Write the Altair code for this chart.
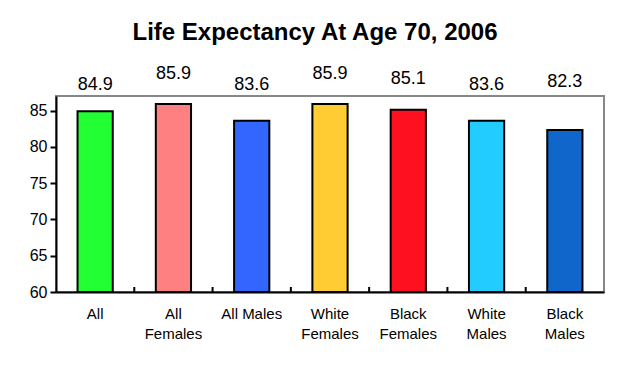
import altair as alt
import pandas as pd

categories = ["All", "All Females", "All Males", "White Females", "Black Females", "White Males", "Black Males"]
values = [84.9, 85.9, 83.6, 85.9, 85.1, 83.6, 82.3]
colors = ["#22FF33", "#FF8080", "#3366FF", "#FFCC33", "#FF1020", "#22CCFF", "#1166CC"]
# pixel offsets of the value labels above the plot area (staggered like the reference)
label_y = [-11, -22, -11, -22, -17, -11, -14]
y_ticks = [60, 65, 70, 75, 80, 85]

df = pd.DataFrame({"cat": categories, "val": values, "color": colors, "ly": label_y})
# category boundaries (between neighbouring bars) for the small inward ticks
bounds = pd.DataFrame({"b": list(range(1, len(categories)))})

FONT = "Liberation Sans"
W, H = 548, 196
Y_MIN = 60

x_enc = alt.X("cat:N", sort=categories,
              scale=alt.Scale(paddingInner=0.55, paddingOuter=0.275),
              axis=alt.Axis(title=None, labelAngle=0, ticks=False, domain=True,
                            domainColor="black", domainWidth=2,
                            labelFont=FONT, labelFontSize=15, labelColor="black",
                            labelPadding=14, labelLineHeight=20, labelBaseline="top",
                            labelExpr="datum.label == 'All Males' ? datum.label : split(datum.label, ' ')"))

bars = alt.Chart(df).mark_bar(stroke="black", strokeWidth=2).encode(
    x=x_enc,
    y=alt.Y("val:Q", scale=alt.Scale(domain=[60, 87], nice=False, zero=False),
            axis=alt.Axis(title=None, values=y_ticks, grid=False, domainColor="black",
                          domainWidth=2, tickColor="black", tickWidth=2, tickSize=6,
                          labelFont=FONT, labelFontSize=16, labelColor="black",
                          labelPadding=3)),
    y2=alt.datum(Y_MIN),
    color=alt.Color("color:N", scale=None),
)

labels = alt.Chart(df).mark_text(font=FONT, fontSize=18, color="black", baseline="middle").encode(
    x=alt.X("cat:N", sort=categories),
    y=alt.Y("ly:Q", scale=None),
    text=alt.Text("val:Q", format=".1f"),
)

ticks = alt.Chart(bounds).mark_rule(color="black", strokeWidth=2).encode(
    x=alt.X("b:Q", scale=alt.Scale(domain=[0, len(categories)], nice=False, zero=True), axis=None),
    y=alt.value(H - 5),
    y2=alt.value(H),
)

chart = alt.layer(alt.layer(bars, labels), ticks).resolve_scale(x="independent").properties(
    width=W, height=H,
    title=alt.TitleParams("Life Expectancy At Age 70, 2006", font=FONT, fontSize=24,
                          fontWeight="bold", color="black", anchor="middle", offset=20, dx=-15),
    autosize=alt.AutoSizeParams(type="none"),
    padding={"left": 48, "top": 88, "right": 28, "bottom": 80},
).configure_view(stroke="#888888", strokeWidth=2)

chart.save("out.html", embed_options={"renderer": "svg", "actions": False})
